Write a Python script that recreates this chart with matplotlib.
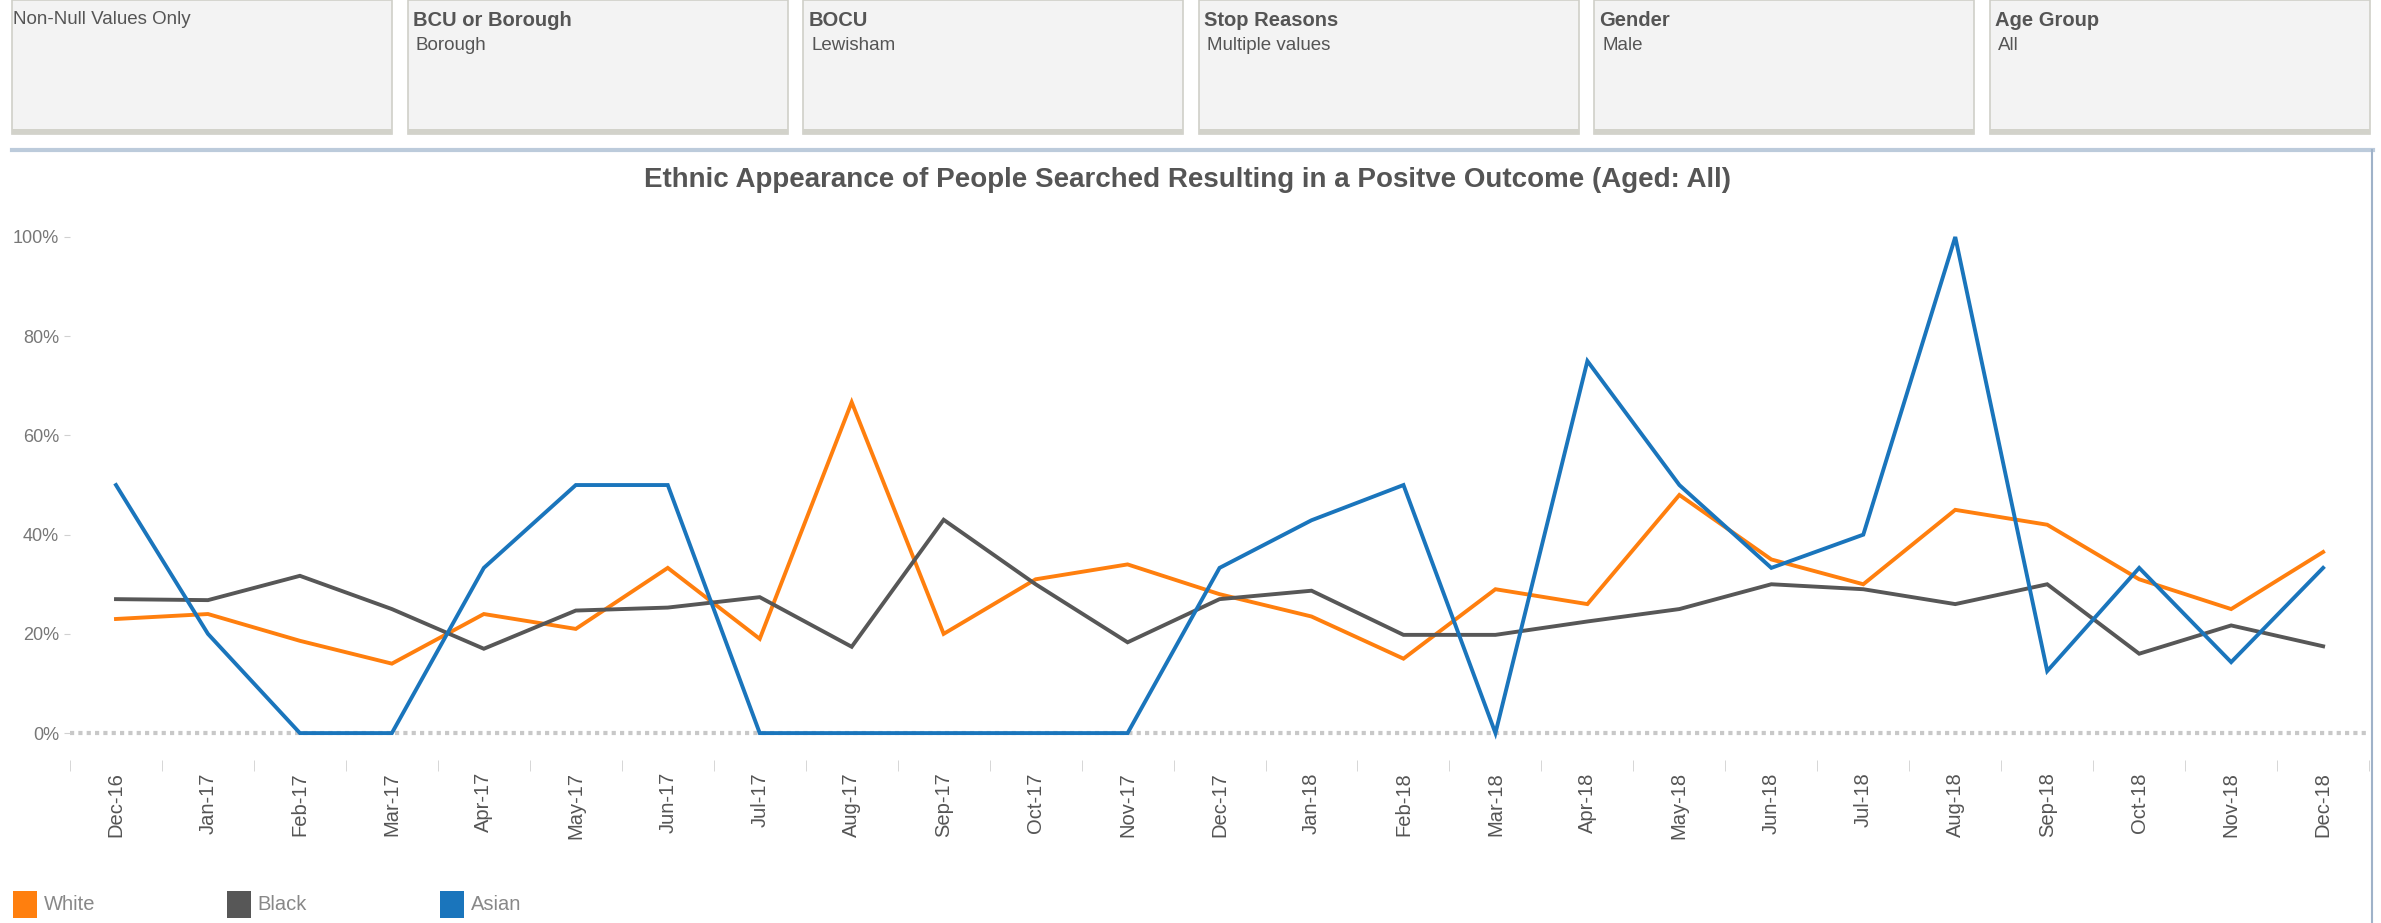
import matplotlib
matplotlib.use('Agg')
import matplotlib.pyplot as plt
from matplotlib.patches import Rectangle
from matplotlib.lines import Line2D
from matplotlib.ticker import PercentFormatter

plt.rcParams['font.family'] = ['Liberation Sans', 'DejaVu Sans']

# ---- data ----
months = ['Dec-16', 'Jan-17', 'Feb-17', 'Mar-17', 'Apr-17', 'May-17', 'Jun-17',
          'Jul-17', 'Aug-17', 'Sep-17', 'Oct-17', 'Nov-17', 'Dec-17', 'Jan-18',
          'Feb-18', 'Mar-18', 'Apr-18', 'May-18', 'Jun-18', 'Jul-18', 'Aug-18',
          'Sep-18', 'Oct-18', 'Nov-18', 'Dec-18']
white = [0.23, 0.24, 0.186, 0.14, 0.24, 0.21, 0.333, 0.19, 0.667, 0.20, 0.31, 0.34,
         0.28, 0.235, 0.15, 0.29, 0.26, 0.48, 0.35, 0.30, 0.45, 0.42, 0.31, 0.25, 0.365]
black = [0.27, 0.268, 0.317, 0.25, 0.17, 0.247, 0.253, 0.274, 0.174, 0.43, 0.30, 0.183,
         0.27, 0.287, 0.198, 0.198, 0.225, 0.25, 0.30, 0.29, 0.26, 0.30, 0.16, 0.217, 0.175]
asian = [0.50, 0.20, 0.0, 0.0, 0.333, 0.50, 0.50, 0.0, 0.0, 0.0, 0.0, 0.0,
         0.333, 0.429, 0.50, 0.0, 0.75, 0.50, 0.333, 0.40, 1.0, 0.125, 0.333, 0.143, 0.333]
series_names = ['White', 'Black', 'Asian']
series_colors = ['#ff7f0e', '#575757', '#1a75bc']
y_ticks = [0, 0.2, 0.4, 0.6, 0.8, 1.0]

filter_titles = ['', 'BCU or Borough', 'BOCU', 'Stop Reasons', 'Gender', 'Age Group']
filter_values = ['Non-Null Values Only', 'Borough', 'Lewisham', 'Multiple values', 'Male', 'All']

title = 'Ethnic Appearance of People Searched Resulting in a Positve Outcome (Aged: All)'

W, H = 2381, 923
fig = plt.figure(figsize=(W / 100, H / 100), dpi=100)


def fx(px):
    return px / W


def fy(py):
    # py measured from the top of the image
    return 1 - py / H


# ---- filter boxes along the top ----
for i, (t, v) in enumerate(zip(filter_titles, filter_values)):
    x0 = 12 + i * 395.6
    fig.add_artist(Rectangle((fx(x0), fy(134)), fx(380), 134 / H, transform=fig.transFigure,
                             facecolor='#f3f3f3', edgecolor='#cfcfc8', lw=1.2))
    fig.add_artist(Rectangle((fx(x0), fy(134)), fx(380), 5 / H, transform=fig.transFigure,
                             facecolor='#d2d2ca', edgecolor='none'))
    if t:
        fig.text(fx(x0 + 5), fy(21), t, fontsize=14.5, fontweight='bold', color='#555555',
                 va='center', ha='left')
        fig.text(fx(x0 + 8), fy(46), v, fontsize=13.5, color='#555555', va='center', ha='left')
    else:
        fig.text(fx(x0 + 1), fy(20), v, fontsize=13.5, color='#555555', va='center', ha='left')

# ---- chart panel border ----
fig.add_artist(Line2D([fx(12), fx(2373)], [fy(150), fy(150)], transform=fig.transFigure,
                      color='#bccbdb', lw=3))
fig.add_artist(Line2D([fx(2372), fx(2372)], [fy(150), fy(923)], transform=fig.transFigure,
                      color='#9fb2c9', lw=1.5))

fig.text(fx(1188), fy(180), title, fontsize=20, fontweight='bold', color='#555555',
         ha='center', va='center')

# ---- line chart ----
ax = fig.add_axes([0.0294, 0.195, 0.9656, 0.602])
x = range(len(months))
for vals, name, col in zip([white, black, asian], series_names, series_colors):
    ax.plot(x, vals, color=col, lw=2.8, label=name, solid_joinstyle='miter', zorder=3)

ax.axhline(0, color='#c8c8c8', lw=3, ls=(0, (1, 1)), zorder=1)
ax.set_xlim(-0.5, len(months) - 0.5)
ax.set_ylim(-0.02, 1.1)

for s in ax.spines.values():
    s.set_visible(False)
ax.spines['bottom'].set_position(('outward', 12))

ax.set_yticks(y_ticks)
ax.yaxis.set_major_formatter(PercentFormatter(1.0, decimals=0))
ax.tick_params(axis='y', length=4, color='#d0d0d0', labelcolor='#777777', labelsize=13, pad=4)

ax.set_xticks(list(x))
ax.set_xticklabels(months, rotation=90)
ax.set_xticks([i - 0.5 for i in range(len(months) + 1)], minor=True)
ax.tick_params(axis='x', which='major', length=0, labelcolor='#555555', labelsize=14.5, pad=9)
ax.tick_params(axis='x', which='minor', length=8, color='#d0d0d0')

# ---- legend (bottom-left) ----
for i, (name, col) in enumerate(zip(series_names, series_colors)):
    lx = 13 + i * 213.5
    fig.add_artist(Rectangle((fx(lx), fy(918)), fx(24), 27 / H, transform=fig.transFigure,
                             facecolor=col, edgecolor='none'))
    fig.text(fx(lx + 31), fy(905), name, fontsize=14.5, color='#888888', va='center', ha='left')

fig.savefig('out.png', dpi=100)
